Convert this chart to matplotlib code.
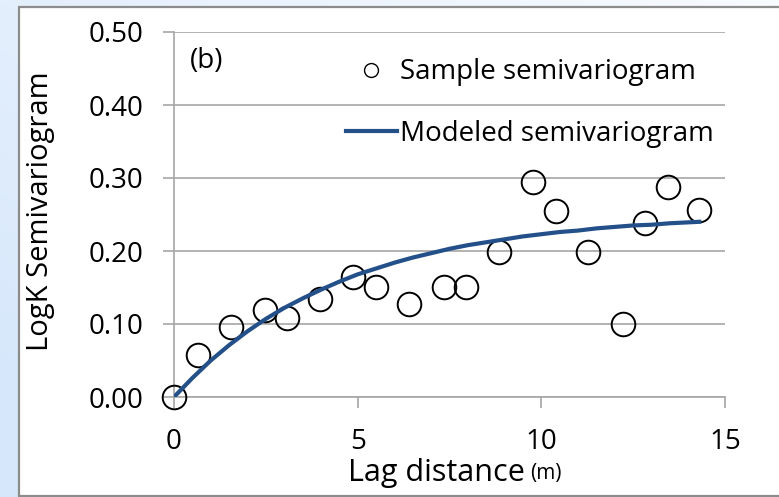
import numpy as np
import matplotlib.pyplot as plt
from matplotlib.lines import Line2D
from matplotlib.patches import Rectangle
from matplotlib.colors import to_rgb

plt.rcParams['font.family'] = ['Open Sans', 'DejaVu Sans']

# sample semivariogram
lag = [0.0, 0.65, 1.55, 2.48, 3.08, 3.98, 4.88, 5.5, 6.39, 7.34, 7.94,
       8.86, 9.78, 10.41, 11.28, 12.23, 12.83, 13.45, 14.3]
gamma = [0.0, 0.058, 0.096, 0.119, 0.108, 0.134, 0.164, 0.151, 0.127, 0.151, 0.151,
         0.199, 0.294, 0.255, 0.198, 0.0995, 0.239, 0.288, 0.256]

# modeled curve
model_lag = [0.0, 0.5, 1.0, 1.5, 2.0, 2.5, 3.0, 3.5, 4.0, 4.5, 5.0, 5.5, 6.0, 6.5,
             7.0, 7.5, 8.0, 8.5, 9.0, 9.5, 10.0, 10.5, 11.0, 11.5, 12.0, 12.5,
             13.0, 13.5, 14.3]
model_gamma = [0.0, 0.026, 0.050, 0.071, 0.090, 0.107, 0.122, 0.135, 0.147, 0.158,
               0.168, 0.176, 0.184, 0.191, 0.197, 0.203, 0.208, 0.212, 0.216, 0.220,
               0.223, 0.226, 0.228, 0.231, 0.233, 0.235, 0.236, 0.238, 0.240]

xticks = [0, 5, 10, 15]
yticks = [0.0, 0.1, 0.2, 0.3, 0.4, 0.5]

fig = plt.figure(figsize=(7.79, 4.97), dpi=100)

# light blue slide background + white box
bg = fig.add_axes([0, 0, 1, 1])
bg.set_axis_off()
gx, gy = np.meshgrid(np.linspace(0, 1, 200), np.linspace(1, 0, 130))
t = np.clip(0.6 * (1 - gx) + 0.5 * (1 - gy), 0, 1)[..., None]
blue = np.array(to_rgb('#d6e7fb'))
white = np.array(to_rgb('#f8fbff'))
bg.imshow(white + (blue - white) * t, aspect='auto', extent=(0, 1, 0, 1))
bg.add_patch(Rectangle((19 / 779, 1 / 497), 1.0, 489 / 497, transform=bg.transAxes,
                       facecolor='white', edgecolor='#8c8c8c', linewidth=1.6))
bg.set_xlim(0, 1)
bg.set_ylim(0, 1)

ax = fig.add_axes([174 / 779, 1 - 397 / 497, (725 - 174) / 779, (397 - 32) / 497])
ax.set_facecolor('none')

ax.plot(lag, gamma, linestyle='none', marker='o', markersize=17,
        markerfacecolor='none', markeredgecolor='black', markeredgewidth=1.4,
        zorder=3, clip_on=False)
ax.plot(model_lag, model_gamma, color='#24508a', linewidth=3, zorder=4,
        solid_joinstyle='round')

ax.set_xlim(0, 15)
ax.set_ylim(0, 0.5)
ax.set_xticks(xticks)
ax.set_yticks(yticks)
ax.set_yticklabels(['%.2f' % v for v in yticks])
ax.yaxis.grid(True, color='#a6a6a6', linewidth=1.2)
ax.set_axisbelow(True)
for s in ['top', 'right']:
    ax.spines[s].set_visible(False)
for s in ['left', 'bottom']:
    ax.spines[s].set_color('#a6a6a6')
    ax.spines[s].set_linewidth(1.2)
ax.tick_params(axis='both', colors='#a6a6a6', labelcolor='black', labelsize=20,
               width=1.2, length=8, direction='out')
ax.tick_params(axis='y', pad=14)
ax.tick_params(axis='x', pad=14)

ax.set_ylabel('LogK Semivariogram', fontsize=21)
ax.yaxis.set_label_coords(-0.216, 0.51)
xl = ax.set_xlabel('Lag distance', fontsize=22)
ax.xaxis.set_label_coords(0.476, -0.168)
ax.annotate('(m)', xy=(1, 0), xycoords=xl, xytext=(4, 3), textcoords='offset points',
            fontsize=15, va='bottom')

ax.text(0.029, 0.96, '(b)', transform=ax.transAxes, fontsize=20, va='top')

handles = [Line2D([], [], linestyle='none', marker='o', markersize=10,
                  markerfacecolor='none', markeredgecolor='black', markeredgewidth=1.0),
           Line2D([], [], color='#24508a', linewidth=3)]
ax.legend(handles, ['Sample semivariogram', 'Modeled semivariogram'],
          loc='upper left', bbox_to_anchor=(0.312, 0.928), frameon=False, fontsize=20,
          handlelength=1.84, handletextpad=0.1, labelspacing=1.22,
          borderaxespad=0.0, borderpad=0.0)

fig.savefig('out.png', dpi=100)
